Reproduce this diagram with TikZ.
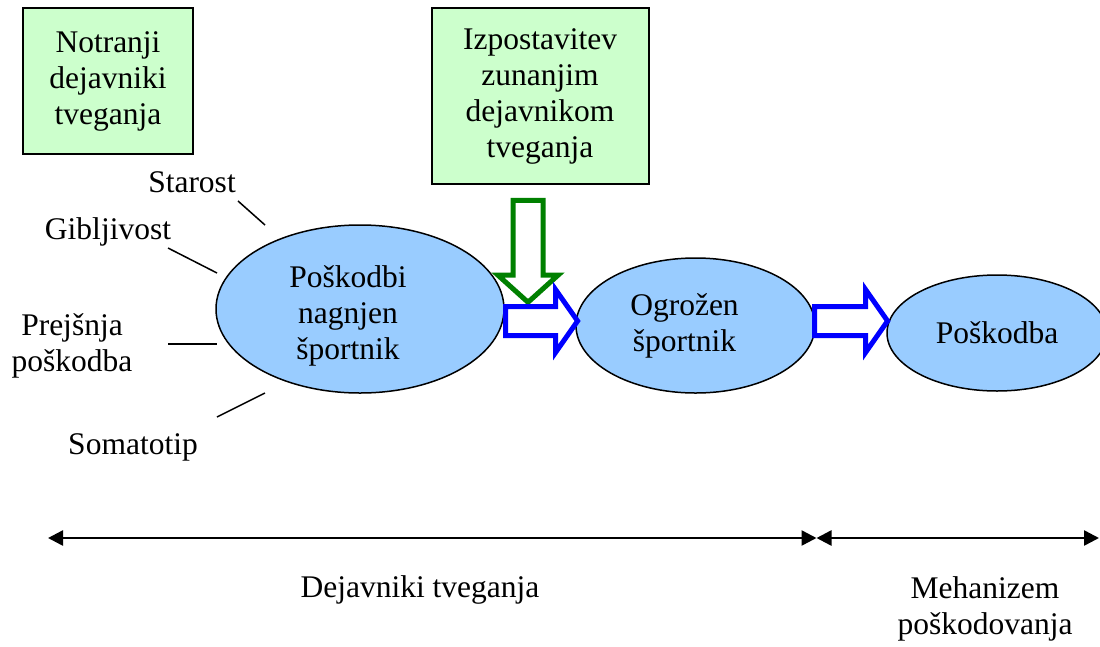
\documentclass[tikz,border=0pt]{standalone}
\usepackage{fontspec}
\setmainfont{Liberation Serif}
\usepackage{tikz}
\usetikzlibrary{positioning, arrows.meta, shapes.geometric, shapes.arrows}

\definecolor{boxgreen}{HTML}{CCFFCC}
\definecolor{ellblue}{HTML}{99CCFF}
\definecolor{arrgreen}{HTML}{008000}

\tikzset{
  factorbox/.style={draw=black, line width=2pt, fill=boxgreen, align=center, inner sep=0pt},
  athlete/.style={ellipse, draw=black, line width=1.5pt, fill=ellblue, align=center, inner sep=0pt},
  hollowarrow/.style={single arrow, line width=5pt, fill=white, inner xsep=0pt,
    minimum width=0pt, single arrow head extend=#1},
  factor/.style={align=center},
  spoke/.style={line width=1.5pt},
  spanline/.style={line width=2.5pt, {Triangle[length=15pt,width=15pt]}-{Triangle[length=15pt,width=15pt]}}
}

\begin{document}
\begin{tikzpicture}[x=1pt, y=-1pt, font=\fontsize{31.5}{36}\selectfont]
\useasboundingbox (0,0) rectangle (1100,646);

% --- risk factor boxes ---
\node[factorbox, minimum width=170, minimum height=146] (inner) at (108,81) {Notranji\\dejavniki\\tveganja};
\node[factorbox, minimum width=217, minimum height=176] (outer) at (540,96) {Izpostavitev\\zunanjim\\dejavnikom\\tveganja};

% --- athlete states ---
\node[athlete, minimum width=288, minimum height=168,
  label={[factor, xshift=-12pt, yshift=-7pt]center:Poškodbi\\nagnjen\\športnik}] (prone) at (360,309) {};
\node[athlete, minimum width=239, minimum height=135,
  label={[factor, xshift=-11pt]center:Ogrožen\\športnik}] (risk) at (695.5,325.5) {};
\node[athlete, minimum width=220, minimum height=116] (injury) at (997,333) {Poškodba};

% --- hollow arrows ---
\node[hollowarrow=15pt, draw=arrgreen, inner ysep=12.5pt, minimum height=102,
  single arrow tip angle=96, rotate=-90] (exposure) at (528,244.5) {};
\node[hollowarrow=17pt, draw=blue, inner ysep=12pt, minimum height=72,
  single arrow tip angle=110] (stepA) at (536.5,321) {};
\node[hollowarrow=17pt, draw=blue, inner ysep=12pt, minimum height=73,
  single arrow tip angle=110] (stepB) at (846,321) {};

% --- internal factors ---
\node[factor] (age) at (192,182) {Starost};
\node[factor] (flex) at (108,232) {Gibljivost};
\node[factor] (prev) at (72,346) {Prejšnja\\poškodba};
\node[factor] (soma) at (133,447) {Somatotip};

\coordinate (ageA) at (238,201);  \coordinate (ageB) at (265,225);
\coordinate (flexA) at (168,248); \coordinate (flexB) at (217,273);
\coordinate (prevA) at (168,344); \coordinate (prevB) at (217,344);
\coordinate (somaA) at (217,417); \coordinate (somaB) at (265,393);
\draw[spoke] (ageA) -- (ageB);
\draw[spoke] (flexA) -- (flexB);
\draw[spoke] (prevA) -- (prevB);
\draw[spoke] (somaA) -- (somaB);

% --- time line ---
\coordinate (spanL) at (48,538);
\coordinate (spanM) at (816.5,538);
\coordinate (spanR) at (1099,538);
\draw[spanline] (spanL) -- (spanM);
\draw[spanline] (spanM) -- (spanR);
\node[factor] (riskfactors) at (420,590) {Dejavniki tveganja};
\node[factor] (mechanism) at (985,609) {Mehanizem\\poškodovanja};

\end{tikzpicture}
\end{document}
